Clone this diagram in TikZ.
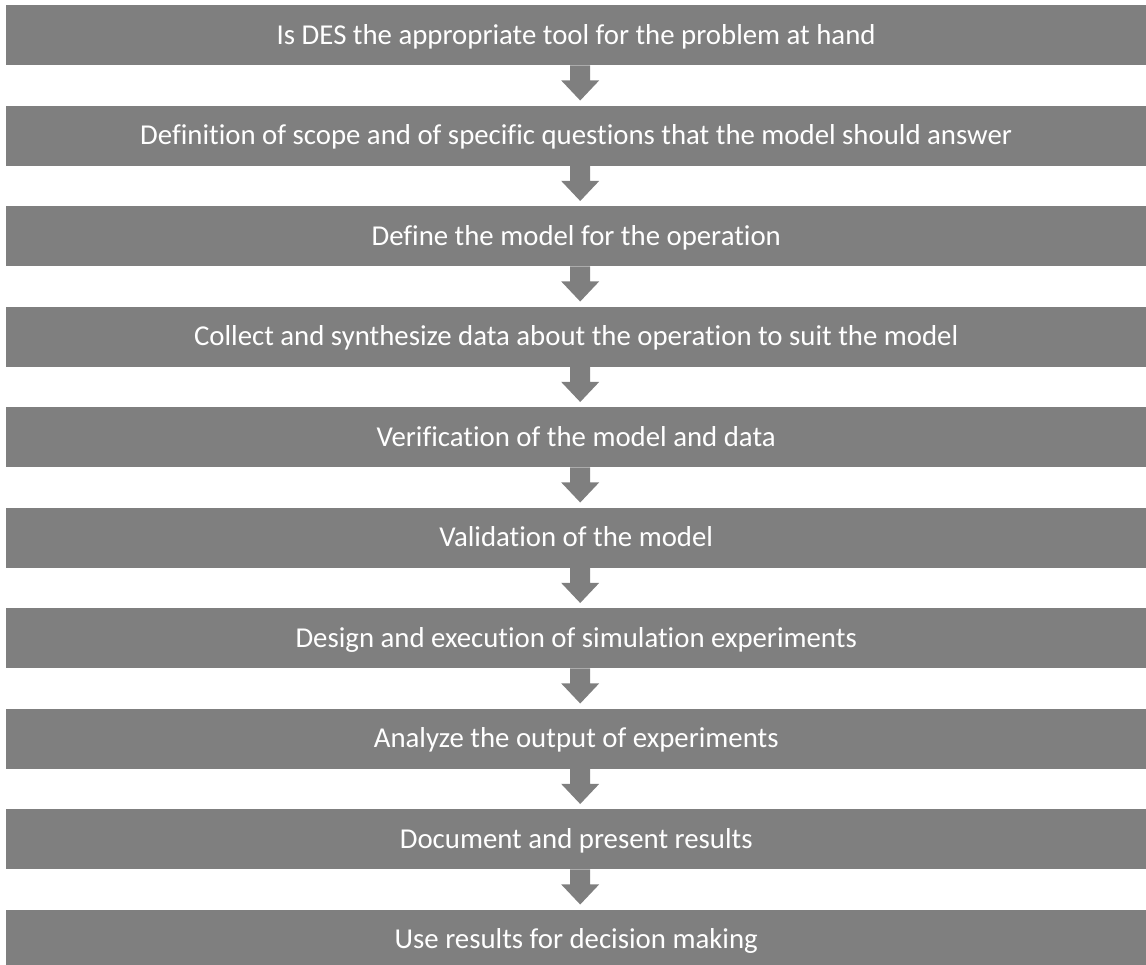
\documentclass[tikz,border=0pt]{standalone}
\usepackage{fontspec}
\setmainfont{Carlito}[Ligatures={NoCommon}]
\usetikzlibrary{calc}
\definecolor{stepgray}{RGB}{127,127,127}
\tikzset{
  stepbox/.style={fill=stepgray, text=white, minimum width=1140pt, minimum height=60pt,
    inner sep=0pt, font=\fontsize{28.8}{34}\selectfont, text height=18.4pt, text depth=0pt,
    anchor=north west},
  flowarrow/.style={fill=stepgray}
}
\begin{document}
\begin{tikzpicture}[x=1pt,y=-1pt]
\useasboundingbox (0,0) rectangle (1146,964);
% the ten steps of the study
\foreach \t [count=\i] in {
  Is DES the appropriate tool for the problem at hand,
  Definition of scope and of specific questions that the model should answer,
  Define the model for the operation,
  Collect and synthesize data about the operation to suit the model,
  Verification of the model and data,
  Validation of the model,
  Design and execution of simulation experiments,
  Analyze the output of experiments,
  Document and present results,
  Use results for decision making}{
  \node[stepbox] (b\i) at (6,{5+100.5*(\i-1)}) {\t};
}
% block arrows between consecutive steps
\foreach \i [evaluate=\i as \j using int(\i+1)] in {1,...,9}{
  \fill[flowarrow] ($(b\i.south)+(-6,0)$) -- ++(20,0) -- ++(0,15) -- ++(9,0)
    -- ($(b\j.north)+(4,-5)$) -- ($(b\i.south)+(-15,15)$) -- ++(9,0) -- cycle;
}
\end{tikzpicture}
\end{document}
